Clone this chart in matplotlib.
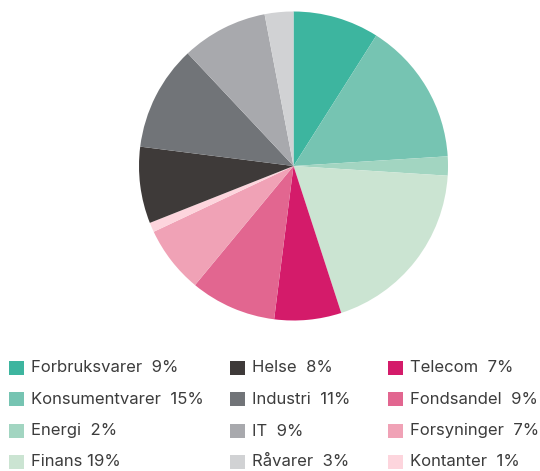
import matplotlib
matplotlib.use("Agg")
import matplotlib.pyplot as plt
from matplotlib.patches import Rectangle

# Sector allocation (percent), in the order the slices run clockwise from the top
sectors = ["Forbruksvarer", "Konsumentvarer", "Energi", "Finans",
           "Telecom", "Fondsandel", "Forsyninger", "Kontanter",
           "Helse", "Industri", "IT", "Råvarer"]
shares = [9, 15, 2, 19, 7, 9, 7, 1, 8, 11, 9, 3]
colors = ["#3db59f", "#76c4b2", "#a2d5c1", "#cbe4d2",
          "#d41b6a", "#e26690", "#f0a2b6", "#fdd5dd",
          "#3e3a39", "#717478", "#a8a9ad", "#d1d2d4"]

# Legend layout: three columns, four rows each
legend_columns = [
    ["Forbruksvarer", "Konsumentvarer", "Energi", "Finans"],
    ["Helse", "Industri", "IT", "Råvarer"],
    ["Telecom", "Fondsandel", "Forsyninger", "Kontanter"],
]

W, H = 540, 471
fig = plt.figure(figsize=(W / 100, H / 100), dpi=100)

cx, cy, r = 293.5, 166, 154.5
ax = fig.add_axes([(cx - r) / W, 1 - (cy + r) / H, 2 * r / W, 2 * r / H])
ax.pie(shares, colors=colors, startangle=90, counterclock=False,
       wedgeprops=dict(linewidth=0), radius=1)
ax.set_xlim(-1, 1)
ax.set_ylim(-1, 1)
ax.set_aspect("equal")
ax.axis("off")

col_x = [9, 230, 388]
row_y = [368, 399, 431, 462]
box = 14.5
color_of = dict(zip(sectors, colors))
share_of = dict(zip(sectors, shares))

for cxp, names in zip(col_x, legend_columns):
    for ryp, name in zip(row_y, names):
        fig.patches.append(Rectangle((cxp / W, 1 - (ryp + box / 2) / H),
                                     box / W, box / H,
                                     transform=fig.transFigure,
                                     facecolor=color_of[name], edgecolor="none"))
        sep = " " if name == "Finans" else "  "
        fig.text((cxp + box + 7.5) / W, 1 - ryp / H,
                 f"{name}{sep}{share_of[name]}%",
                 ha="left", va="center", fontsize=12,
                 family=["Inter", "DejaVu Sans"], color="#3c3c3c")

fig.savefig("out.png", dpi=100)
